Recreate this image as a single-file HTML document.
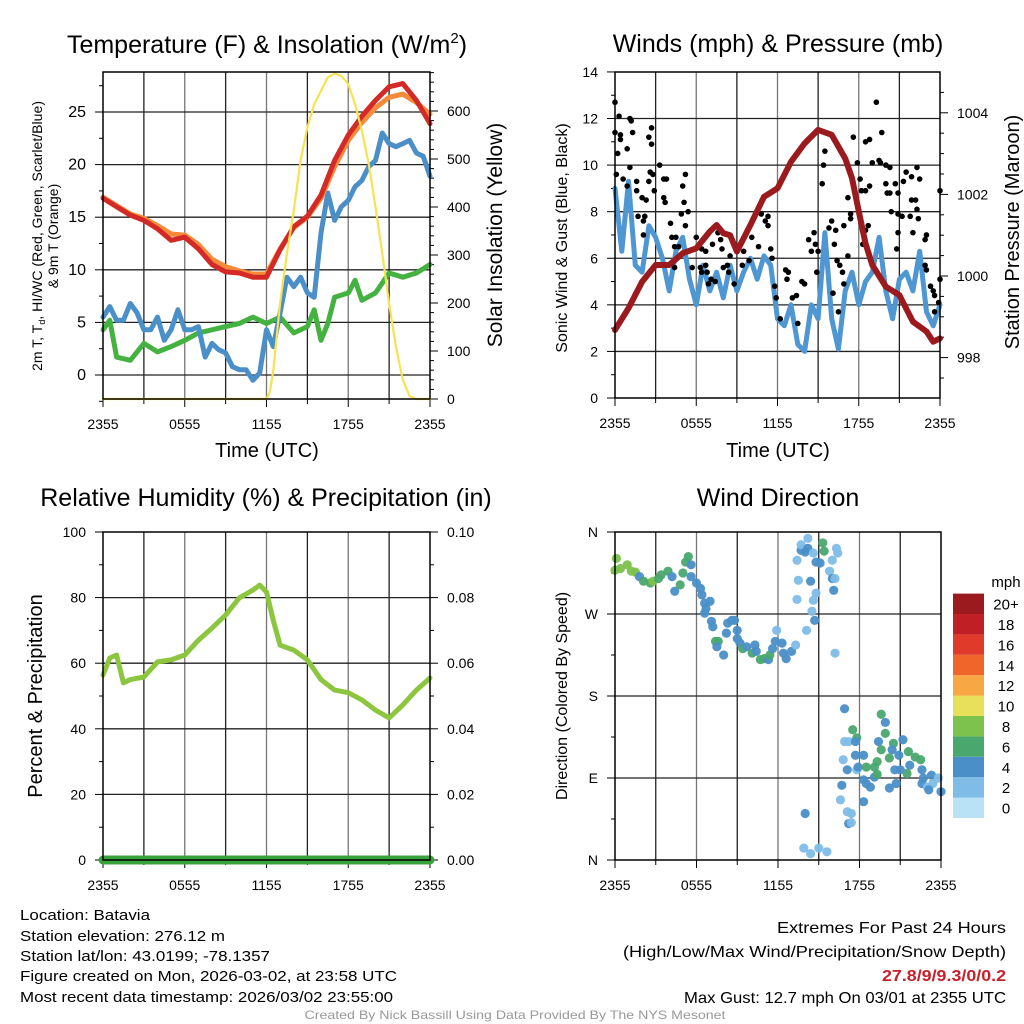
<!DOCTYPE html>
<html><head><meta charset="utf-8"><style>
body{margin:0;background:#fff;}
svg{display:block;font-family:"Liberation Sans",sans-serif;}
</style></head><body>
<svg id="fig" width="1024" height="1024" viewBox="0 0 1024 1024" xmlns="http://www.w3.org/2000/svg">
<rect x="0" y="0" width="1024" height="1024" fill="#fff"/>
<g id="layer"></g>
<!-- titles -->
<text x="267" y="53" font-size="25" text-anchor="middle">Temperature (F) &amp; Insolation (W/m<tspan dy="-10" font-size="15">2</tspan><tspan dy="10">)</tspan></text>
<text x="778" y="52" font-size="25" text-anchor="middle">Winds (mph) &amp; Pressure (mb)</text>
<text x="266" y="506" font-size="25" text-anchor="middle">Relative Humidity (%) &amp; Precipitation (in)</text>
<text x="778" y="506" font-size="25" text-anchor="middle">Wind Direction</text>
<!-- axis titles -->
<text x="267" y="457" font-size="20" text-anchor="middle">Time (UTC)</text>
<text x="778" y="457" font-size="20" text-anchor="middle">Time (UTC)</text>
<text transform="translate(42,236) rotate(-90)" font-size="14" text-anchor="middle" textLength="270">2m T, T<tspan font-size="9" dy="3">d</tspan><tspan dy="-3">, HI/WC (Red, Green, Scarlet/Blue)</tspan></text>
<text transform="translate(58,236) rotate(-90)" font-size="14" text-anchor="middle">&amp; 9m T (Orange)</text>
<text transform="translate(502,235) rotate(-90)" font-size="21" text-anchor="middle">Solar Insolation (Yellow)</text>
<text transform="translate(567,238) rotate(-90)" font-size="16" text-anchor="middle">Sonic Wind &amp; Gust (Blue, Black)</text>
<text transform="translate(1019,232) rotate(-90)" font-size="20" text-anchor="middle">Station Pressure (Maroon)</text>
<text transform="translate(42,696) rotate(-90)" font-size="20" text-anchor="middle">Percent &amp; Precipitation</text>
<text transform="translate(567,696) rotate(-90)" font-size="16" text-anchor="middle">Direction (Colored By Speed)</text>
<text x="1006" y="587" font-size="15" text-anchor="middle">mph</text>
<!-- footer -->
<g font-size="15">
<text x="20" y="920" textLength="130" lengthAdjust="spacingAndGlyphs">Location: Batavia</text>
<text x="20" y="941" textLength="205" lengthAdjust="spacingAndGlyphs">Station elevation: 276.12 m</text>
<text x="20" y="961" textLength="250" lengthAdjust="spacingAndGlyphs">Station lat/lon: 43.0199; -78.1357</text>
<text x="20" y="981" textLength="377" lengthAdjust="spacingAndGlyphs">Figure created on Mon, 2026-03-02, at 23:58 UTC</text>
<text x="20" y="1002" textLength="373" lengthAdjust="spacingAndGlyphs">Most recent data timestamp: 2026/03/02 23:55:00</text>
</g>
<g font-size="16" text-anchor="end">
<text x="1006" y="933" textLength="229" lengthAdjust="spacingAndGlyphs">Extremes For Past 24 Hours</text>
<text x="1006" y="957" textLength="383" lengthAdjust="spacingAndGlyphs">(High/Low/Max Wind/Precipitation/Snow Depth)</text>
<text x="1006" y="981" textLength="124" lengthAdjust="spacingAndGlyphs" fill="#c8202a" font-weight="bold">27.8/9/9.3/0/0.2</text>
<text x="1006" y="1003" textLength="322" lengthAdjust="spacingAndGlyphs">Max Gust: 12.7 mph On 03/01 at 2355 UTC</text>
</g>
<text x="515" y="1019" font-size="12" fill="#999" text-anchor="middle" textLength="421" lengthAdjust="spacingAndGlyphs">Created By Nick Bassill Using Data Provided By The NYS Mesonet</text>
</svg>
<script>
// ---------- data ----------
const hoursHourly = [0,1,2,3,4,5,6,7,8,9,10,11,12,13,14,15,16,17,18,19,20,21,22,23,24];
const tempRed = [16.8,16.0,15.2,14.7,13.9,12.8,13.1,12.0,10.5,9.8,9.7,9.3,9.3,11.9,14.1,15.1,17.1,20.4,22.8,24.6,26.1,27.4,27.7,26.1,23.9];
const temp9mOrange = [16.9,16.1,15.3,14.9,14.2,13.4,13.3,12.4,11.0,10.3,9.9,9.6,9.6,12.0,14.0,15.0,16.8,19.8,22.3,24.0,25.4,26.4,26.7,25.9,24.8];
const hoursHalf = [0,0.5,1,1.5,2,2.5,3,3.5,4,4.5,5,5.5,6,6.5,7,7.5,8,8.5,9,9.5,10,10.5,11,11.5,12,12.5,13,13.5,14,14.5,15,15.5,16,16.5,17,17.5,18,18.5,19,19.5,20,20.5,21,21.5,22,22.5,23,23.5,24];
const wcBlue = [5.5,6.5,5.2,5.2,6.8,5.9,4.3,4.3,5.5,3.3,4.3,6.2,4.3,4.3,4.6,1.7,3.0,2.4,2.1,0.8,0.5,0.5,-0.5,0.2,4.3,2.7,5.9,9.3,8.4,9.3,7.8,7.4,13.5,17.3,14.7,16.0,16.6,17.9,18.5,19.8,20.4,23.0,22.0,21.7,22.0,22.3,21.1,20.8,18.9];
const hoursGreen = [0,0.5,1,2,3,4,5,6,7,8,9,10,11,12,13,14,15,15.5,16,16.5,17,18,18.5,19,20,21,22,23,24];
const dewGreen = [4.3,5.2,1.7,1.4,3.0,2.2,2.7,3.3,4.0,4.3,4.6,4.9,5.5,4.9,5.5,4.0,4.6,6.2,3.3,4.9,7.4,7.8,9.0,7.1,7.8,9.7,9.3,9.7,10.5];
const hoursSolar = [0,12,12.25,12.5,13,13.5,14,14.5,15,15.5,16,16.5,17,17.5,18,18.5,19,19.5,20,20.5,21,21.5,22,22.5,23,24];
const solarW = [0,0,15,60,200,303,393,497,566,614,642,670,678,673,656,614,559,490,400,303,199,109,40,6,0,0];

const pressHours = [0,1,2,3,4,5,6,7,7.5,8,8.5,9,10,11,12,13,14,15,16,17,17.5,18,18.5,19,20,21,22,23,23.5,24];
const pressureMb = [998.68,999.21,999.86,1000.27,1000.27,1000.56,1000.68,1001.09,1001.25,1001.05,1001.0,1000.6,1001.25,1001.94,1002.15,1002.8,1003.25,1003.58,1003.46,1002.88,1002.4,1001.58,1000.8,1000.27,999.74,999.53,998.88,998.64,998.39,998.47];
const windMph = [9.0,6.3,9.3,5.7,5.4,7.4,6.9,6.0,4.6,6.3,6.9,5.1,4.0,5.7,4.6,5.4,4.3,5.7,4.6,5.4,6.0,5.1,6.1,5.7,3.4,3.1,4.0,2.3,2.0,4.0,3.4,7.1,3.4,2.1,4.6,5.4,4.0,5.0,5.4,6.9,4.6,3.4,5.1,5.4,4.6,6.3,3.7,3.1,4.0];
const gustHours = [0,0.3,1.1,1.2,0,0.4,0.4,2.5,2.7,1.3,0.9,0.2,1.1,0.1,0.6,1.6,0.9,2.7,3.3,2.6,2.8,3.6,3.8,2.5,5.2,5.0,2.9,1.6,2.0,2.3,3.6,3.7,5.1,5.4,4.9,1.7,2.2,2.1,4.1,5.2,2.1,4.2,4.5,4.4,4.7,6.0,7.6,7.8,6.4,6.7,7.2,7.9,8.5,4.4,5.7,6.3,6.7,6.4,6.8,7.1,6.9,7.4,8.0,8.3,8.4,8.8,9.4,9.9,9.5,10.1,10.6,10.8,11.1,11.3,11.3,11.5,11.6,11.8,11.9,12.2,12.6,12.8,12.7,13.1,13.4,13.5,13.8,14.0,14.3,14.7,14.5,14.8,15.0,14.9,15.3,15.4,15.5,15.8,16.0,16.3,16.2,16.4,16.6,16.8,16.1,16.5,16.9,16.9,17.2,17.4,17.4,17.2,17.6,17.9,18.1,18.2,18.5,18.3,18.5,18.7,18.8,18.5,18.8,19.0,19.3,19.5,19.7,19.6,20.0,20.3,20.0,20.1,20.3,20.4,20.7,20.9,20.9,20.9,20.8,21.3,21.5,21.9,22.3,22.5,21.9,22.2,21.8,21.2,22.3,22.4,22.0,23.0,22.9,22.9,23.0,23.3,23.5,23.6,23.9,24.0,23.6,24.0];
const gustMph = [12.7,12.1,12.0,11.9,11.4,11.3,11.1,11.2,11.6,11.4,10.7,10.5,9.9,9.6,9.4,9.3,9.1,10.9,10.0,9.7,9.6,9.4,9.4,9.3,9.6,9.1,8.9,8.9,8.6,8.5,8.6,8.4,8.4,8.0,7.9,7.8,7.8,7.6,7.5,7.4,7.0,6.9,6.9,6.5,6.5,6.9,7.1,6.8,6.4,6.3,6.6,6.4,6.1,5.6,5.6,5.6,5.7,5.4,5.4,5.1,4.9,5.0,5.6,5.7,5.4,4.9,5.7,5.9,6.3,6.9,6.5,7.9,7.6,7.4,7.8,6.4,6.0,4.8,4.3,3.4,5.5,5.4,5.1,4.3,4.4,3.2,5.0,4.9,6.8,7.1,6.3,6.6,6.3,5.4,9.2,10.0,10.6,7.3,7.6,7.2,6.6,5.9,5.7,5.4,4.5,3.7,4.9,7.4,6.1,7.7,7.9,8.6,11.2,10.1,9.4,8.9,8.9,6.6,7.2,7.4,9.1,11.0,11.1,10.1,12.7,10.2,11.4,10.1,10.0,9.9,9.2,8.8,8.8,8.0,9.2,8.8,7.9,7.1,6.4,9.3,9.7,9.5,9.9,9.4,8.5,8.5,7.8,7.8,8.1,7.7,7.1,7.0,6.8,5.7,5.5,4.8,4.6,4.4,4.1,5.1,3.7,8.9];

const rhHours = [0,0.5,1,1.5,2,3,4,5,6,7,8,9,10,11,11.5,12,12.5,13,14,15,16,17,18,19,20,21,22,23,24];
const rhPct = [56.4,61.6,62.5,54,55,55.8,60.4,61,62.5,67,70.7,74.7,79.9,82.3,83.8,81.7,73,65.5,64,61,55,51.8,51,48.8,45.7,43.3,47.3,51.8,55.5];
const precipHours = [0,24];
const precipIn = [0,0];

const dirHours = [0.1,0,0.4,0.9,1.2,1.5,1.8,2.1,2.6,2.8,3.2,3.4,3.9,4.2,4.4,4.8,5.0,5.2,5.4,5.6,5.6,6.0,6.3,6.4,6.6,6.7,7.0,6.6,7.1,7.2,7.4,7.6,7.5,8.0,8.2,8.3,8.6,8.8,9.0,9.0,9.2,9.4,9.7,10.1,10.3,10.4,10.7,11.0,11.3,11.4,11.6,11.8,11.9,12.3,12.4,12.6,13.0,13.3,13.4,13.5,13.4,13.7,13.7,14.0,14.2,14.2,14.6,14.8,15.1,15.3,15.4,15.8,16.0,16.2,16.1,16.4,16.3,16.0,14.4,14.8,14.6,14.5,14.7,14.1,16.2,16.9,17.5,17.8,16.9,17.2,17.7,16.8,17.7,18.3,17.1,17.8,17.9,18.5,19.1,19.3,19.6,19.9,19.9,19.4,20.5,21.2,19.6,20.2,20.4,20.9,21.6,22.1,22.5,21.7,22.6,20.6,21.5,21.0,18.3,18.8,18.5,19.1,19.3,20.2,20.7,22.7,22.6,23.0,23.3,23.8,23.4,23.1,24.0,16.7,16.6,17.1,17.4,17.2,17.4,18.3,14.0,13.9,14.4,15.0,15.6];
const dirDeg = [331,318,320,324,317,316,311,306,304,306,309,313,317,311,295,302,315,327,333,324,311,304,298,291,282,276,284,271,262,256,240,240,234,225,249,260,263,263,252,243,238,232,234,227,236,229,220,221,220,225,232,240,252,238,227,221,229,236,286,307,329,340,346,338,353,342,337,327,326,348,339,317,309,309,296,337,342,329,306,293,285,273,263,252,227,166,143,134,130,130,130,110,115,115,99,99,102,102,102,108,160,151,139,130,128,132,121,112,121,115,119,113,110,104,99,99,95,99,88,80,84,91,94,79,84,90,84,80,93,90,84,77,75,82,66,53,51,40,41,64,51,13,7,13,9];
const dirSpeed = [9,9,9,9,9,9,5,7,7,9,7,7,7,5,5,7,7,7,7,5,5,5,5,5,5,5,5,5,5,5,7,7,5,5,5,5,5,5,5,5,5,7,5,7,5,5,7,7,5,7,5,5,3,5,5,5,5,3,3,3,3,5,3,5,3,5,3,5,5,7,7,3,5,3,5,3,3,3,5,3,3,3,5,3,3,5,7,7,3,3,5,3,5,5,5,3,5,7,7,7,7,5,7,5,7,5,7,7,5,5,7,7,7,5,5,5,7,5,5,5,5,5,7,5,5,5,5,3,5,3,3,5,5,5,3,3,3,5,3,5,5,3,3,3,3,5];

const colorbarLabels = ["0","2","4","6","8","10","12","14","16","18","20+"];
const colorbarColors = ["#b9e2f7","#7fbde8","#4a8fc8","#4aa86e","#7cc24c","#e8e05a","#f8a745","#f0652a","#e03a2b","#c01f26","#9b1a1e"];

// ---------- helpers ----------
const NS = "http://www.w3.org/2000/svg";
const layer = document.getElementById('layer');
function mk(tag, attrs, parent){
  const e = document.createElementNS(NS, tag);
  for (const k in attrs) e.setAttribute(k, attrs[k]);
  (parent||layer).appendChild(e);
  return e;
}
const P1={x0:103,x1:430,y0:72,y1:399};
const P2={x0:615,x1:940,y0:72,y1:398};
const P3={x0:103,x1:430,y0:532,y1:860};
const P4={x0:615,x1:941,y0:532,y1:860};
function tx(P,h){return P.x0 + h*(P.x1-P.x0)/24;}
const yTemp = v => 375 - 10.52*v;
const ySolar = w => 399 - 0.48*w;
const yWind = v => 398 - 23.29*v;
const yPress = p => 276 - 40.8*(p-1000);
const yRH = r => 860 - 3.28*r;
const yPrecip = p => 860 - 3280*p;
const yDir = d => 860 - d*328/360;

function gridAndFrame(P, hVals, yFn, name){
  for (let h=3; h<24; h+=3){
    const l = mk('line',{x1:tx(P,h),x2:tx(P,h),y1:P.y0,y2:P.y1,stroke:(h%6===0)?'#777':'#222','stroke-width':1.3});
    
    
  }
  hVals.forEach(v=>{
    const l = mk('line',{x1:P.x0,x2:P.x1,y1:yFn(v),y2:yFn(v),stroke:'#222','stroke-width':1.3});
    
    
  });
  const xl=['2355','0555','1155','1755','2355'];
  for (let i=0;i<=8;i++){
    const x=tx(P,i*3);
    const t = mk('line',{x1:x,x2:x,y1:P.y1,y2:P.y1+(i%2===0?8:5),stroke:'#000','stroke-width':1});
    
    
    if(i%2===0){
      const tt = mk('text',{x:x,y:P.y1+30,'font-size':14,'text-anchor':'middle'});
      tt.textContent = xl[i/2];
      
      
    }
  }
}
function frame(P,name){
  const r = mk('rect',{x:P.x0,y:P.y0,width:P.x1-P.x0,height:P.y1-P.y0,fill:'none',stroke:'#000','stroke-width':1.5});
  
  
}
function yTicks(P, vals, labels, yFn, side, name, fs){
  vals.forEach((v,i)=>{
    const y=yFn(v);
    const x = side==='left'?P.x0:P.x1;
    const d = side==='left'?-8:8;
    const t = mk('line',{x1:x,x2:x+d,y1:y,y2:y,stroke:'#000','stroke-width':1});
    
    
    const tt = mk('text',{x: side==='left'? x-17 : x+17, y:y+5,'font-size':fs||14,'text-anchor': side==='left'?'end':'start'});
    tt.textContent = labels[i];
    
    
  });
}
function minorTicks(P, vals, yFn, side, name){
  vals.forEach(v=>{
    const y=yFn(v); const x= side==='left'?P.x0:P.x1; const d= side==='left'?-4:4;
    const t = mk('line',{x1:x,x2:x+d,y1:y,y2:y,stroke:'#000','stroke-width':1});
    
    
  });
}
function line(P, hs, vs, yFn, color, w, name){
  const pts = hs.map((h,i)=>tx(P,h).toFixed(1)+','+yFn(vs[i]).toFixed(1)).join(' ');
  const l = mk('polyline',{points:pts,fill:'none',stroke:color,'stroke-width':w,'stroke-linejoin':'round','stroke-linecap':'round'});
  
  
  return l;
}

// ---------- panel 1 ----------
gridAndFrame(P1,[0,5,10,15,20,25],yTemp,'temperature');
yTicks(P1,[0,5,10,15,20,25],['0','5','10','15','20','25'],yTemp,'left','temperature-y',16);
minorTicks(P1,[-2.5,2.5,7.5,12.5,17.5,22.5,27.5],yTemp,'left','temperature-y');
yTicks(P1,[0,100,200,300,400,500,600],['0','100','200','300','400','500','600'],ySolar,'right','solar-y',14);
minorTicks(P1,[20,40,60,80,120,140,160,180,220,240,260,280,320,340,360,380,420,440,460,480,520,540,560,580,620,640,660,680],ySolar,'right','solar-y');
line(P1,hoursGreen,dewGreen,yTemp,'#44b240',5,'dewpoint-line');
line(P1,hoursHalf,wcBlue,yTemp,'#4a8fc8',5,'wind-chill-line');
line(P1,hoursHourly,temp9mOrange,yTemp,'#f58a3a',5,'temp-9m-line');
line(P1,hoursHourly,tempRed,yTemp,'#d42a27',5,'temp-2m-line');
line(P1,hoursSolar,solarW,ySolar,'#f8e250',2.2,'solar-insolation-line');
frame(P1,'temperature');

// ---------- panel 2 ----------
gridAndFrame(P2,[2,4,6,8,10,12],yWind,'wind');
yTicks(P2,[0,2,4,6,8,10,12,14],['0','2','4','6','8','10','12','14'],yWind,'left','wind-y',14);
minorTicks(P2,[1,3,5,7,9,11,13],yWind,'left','wind-y');
yTicks(P2,[998,1000,1002,1004],['998','1000','1002','1004'],yPress,'right','pressure-y',14);
minorTicks(P2,[997.5,998.5,999,999.5,1000.5,1001,1001.5,1002.5,1003,1003.5,1004.5],yPress,'right','pressure-y');
line(P2,hoursHalf,windMph,yWind,'#4f97d2',5,'sonic-wind-line');
gustHours.forEach((h,i)=>{
  const c = mk('circle',{cx:tx(P2,Math.min(h,24)),cy:yWind(gustMph[i]),r:2.8,fill:'#000'});
  
  
});
line(P2,pressHours,pressureMb,yPress,'#9b1a1e',6,'pressure-line');
frame(P2,'wind');

// ---------- panel 3 ----------
gridAndFrame(P3,[20,40,60,80],yRH,'humidity');
yTicks(P3,[0,20,40,60,80,100],['0','20','40','60','80','100'],yRH,'left','humidity-y',14);
minorTicks(P3,[10,30,50,70,90],yRH,'left','humidity-y');
yTicks(P3,[0,0.02,0.04,0.06,0.08,0.10],['0.00','0.02','0.04','0.06','0.08','0.10'],yPrecip,'right','precip-y',14);
minorTicks(P3,[0.01,0.03,0.05,0.07,0.09],yPrecip,'right','precip-y');
line(P3,rhHours,rhPct,yRH,'#8cc63f',5,'relative-humidity-line');
line(P3,precipHours,precipIn,yPrecip,'#3aa23a',9,'precipitation-line');
frame(P3,'humidity');

// ---------- panel 4 ----------
gridAndFrame(P4,[90,180,270],yDir,'direction');
yTicks(P4,[0,90,180,270,360],['N','E','S','W','N'],yDir,'left','direction-y',14);
minorTicks(P4,[45,135,225,315],yDir,'left','direction-y');
dirHours.forEach((h,i)=>{
  const bin = Math.min(10, Math.floor(dirSpeed[i]/2));
  const c = mk('circle',{cx:tx(P4,h),cy:yDir(dirDeg[i]),r:4.6,fill:colorbarColors[bin],'fill-opacity':0.95});
  
  
});
frame(P4,'direction');

// colorbar
colorbarColors.forEach((col,i)=>{
  const y = 818 - (i+1)*20.4;
  const r = mk('rect',{x:953,y:y,width:31,height:20.4,fill:col});
  
  
  const t = mk('text',{x:1006,y:y+16,'font-size':15,'text-anchor':'middle'});
  t.textContent = colorbarLabels[i];
  
  
});
</script>
</body></html>
